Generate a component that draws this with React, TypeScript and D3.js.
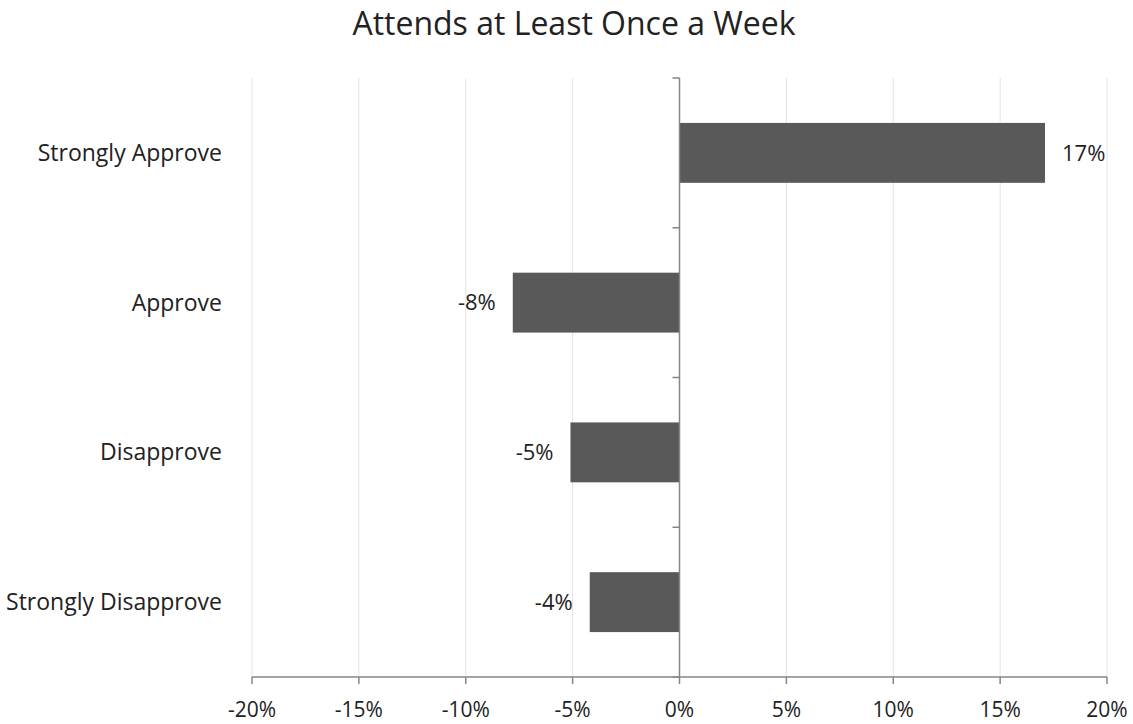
import React from "react";
import * as d3 from "d3";

const title = "Attends at Least Once a Week";
const categories = ["Strongly Approve", "Approve", "Disapprove", "Strongly Disapprove"];
const values = [0.171, -0.078, -0.051, -0.042];
const xTicks = [-0.2, -0.15, -0.1, -0.05, 0, 0.05, 0.1, 0.15, 0.2];

const W = 1133;
const H = 724;
const FONT = "'Open Sans', 'Noto Sans', sans-serif";

// percent format with a plain hyphen for negatives
const pct = d3.format(".0%");
const fmt = (v: number) => pct(v).replace("\u2212", "-");

export default function App() {
  const plot = { left: 252, right: 1107, top: 78, bottom: 677 };
  const x = d3.scaleLinear().domain([-0.2, 0.2]).range([plot.left, plot.right]);
  const y = d3
    .scaleBand<string>()
    .domain(categories)
    .range([plot.top, plot.bottom])
    .paddingInner(0.6)
    .paddingOuter(0.3);
  const band = d3.scaleBand<string>().domain(categories).range([plot.top, plot.bottom]);
  const x0 = x(0);

  const catBoundaries = d3.range(categories.length + 1).map(
    (i) => plot.top + (i * (plot.bottom - plot.top)) / categories.length
  );

  return (
    <svg
      width={W}
      height={H}
      style={{ position: "absolute", left: 0, top: 0, background: "#fff" }}
      fontFamily={FONT}
    >
      <text x={574} y={35} textAnchor="middle" fontSize={32} fill="#222">
        {title}
      </text>

      {/* vertical gridlines */}
      {xTicks.map((t) => (
        <line
          key={"g" + t}
          x1={x(t)}
          x2={x(t)}
          y1={plot.top}
          y2={plot.bottom}
          stroke="#e3e3e3"
          strokeWidth={1}
        />
      ))}

      {/* bars */}
      {categories.map((c, i) => {
        const v = values[i];
        const xa = Math.min(x(v), x0);
        const w = Math.abs(x(v) - x0);
        return (
          <rect
            key={c}
            x={xa}
            y={y(c)!}
            width={w}
            height={y.bandwidth()}
            fill="#595959"
          />
        );
      })}

      {/* value labels */}
      {categories.map((c, i) => {
        const v = values[i];
        const cy = band(c)! + band.bandwidth() / 2;
        const pos = v >= 0;
        return (
          <text
            key={"v" + c}
            x={pos ? x(v) + 17 : x(v) - 17}
            y={cy}
            dy="0.35em"
            textAnchor={pos ? "start" : "end"}
            fontSize={22}
            fill="#222"
          >
            {fmt(v)}
          </text>
        );
      })}

      {/* x axis */}
      <line x1={plot.left} x2={plot.right} y1={plot.bottom} y2={plot.bottom} stroke="#868686" strokeWidth={1.5} />
      {xTicks.map((t) => (
        <g key={"t" + t}>
          <line x1={x(t)} x2={x(t)} y1={plot.bottom} y2={plot.bottom + 7} stroke="#868686" strokeWidth={1.5} />
          <text x={x(t)} y={717} textAnchor="middle" fontSize={21} fill="#222">
            {fmt(t)}
          </text>
        </g>
      ))}

      {/* category axis at zero */}
      <line x1={x0} x2={x0} y1={plot.top} y2={plot.bottom} stroke="#868686" strokeWidth={1.5} />
      {catBoundaries.map((b, i) => (
        <line key={"c" + i} x1={x0 - 7} x2={x0} y1={b} y2={b} stroke="#868686" strokeWidth={1.5} />
      ))}
      {categories.map((c) => (
        <text
          key={"l" + c}
          x={222}
          y={band(c)! + band.bandwidth() / 2}
          dy="0.35em"
          textAnchor="end"
          fontSize={23}
          fill="#222"
        >
          {c}
        </text>
      ))}
    </svg>
  );
}
